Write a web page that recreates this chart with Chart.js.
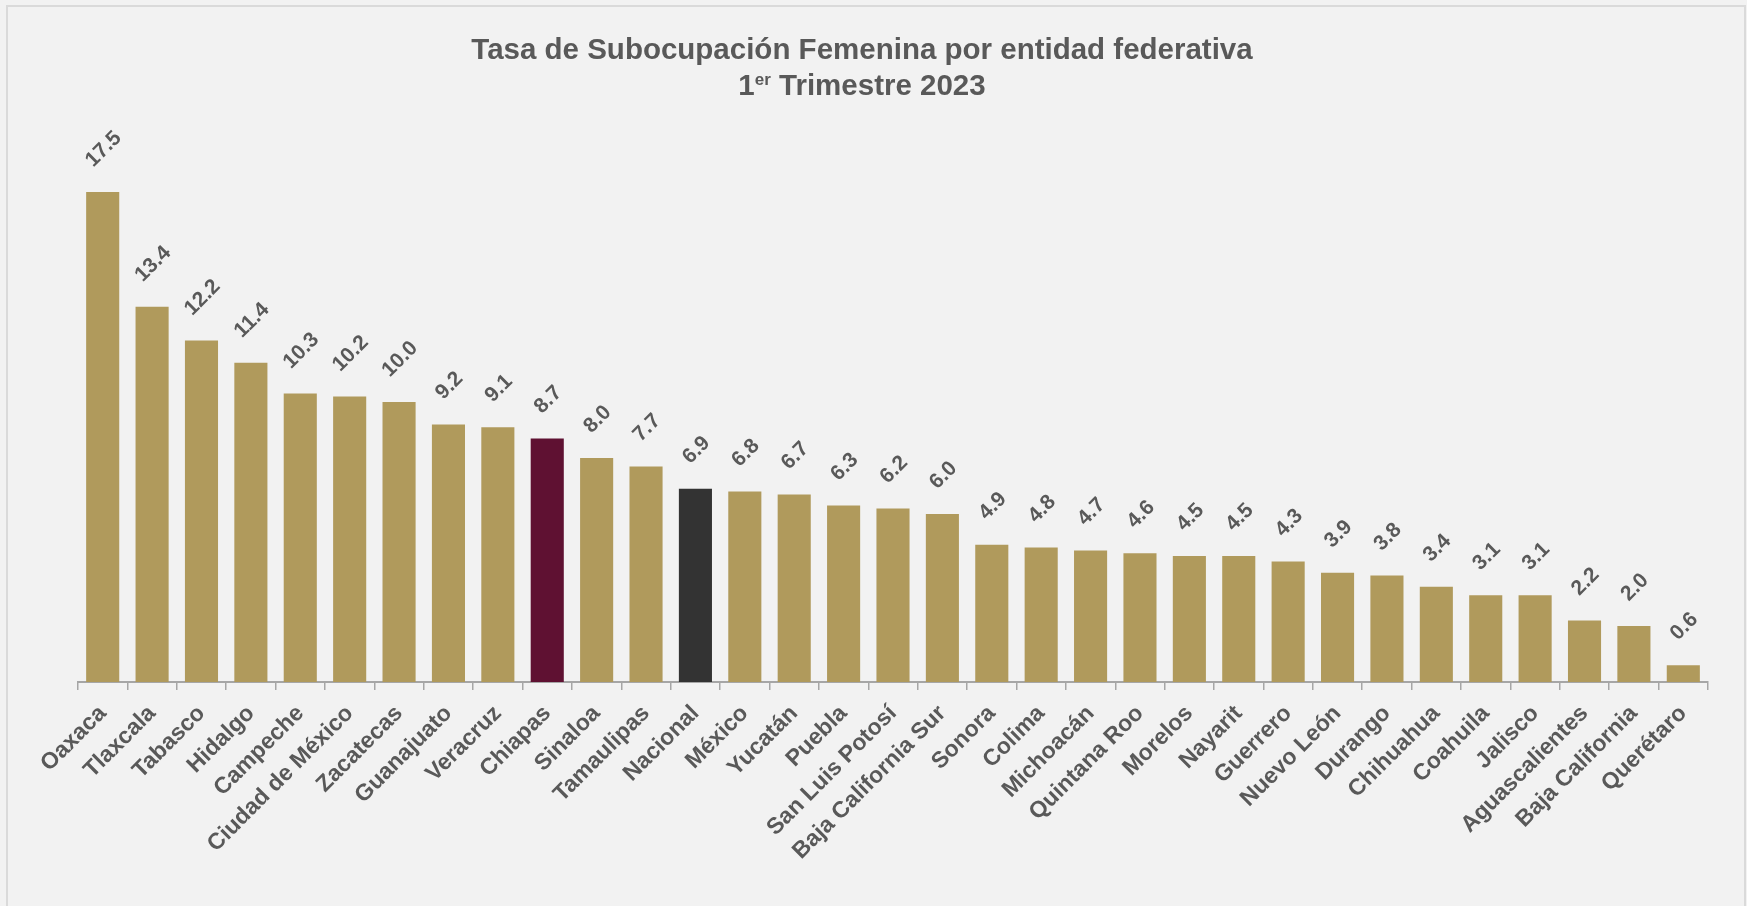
<!DOCTYPE html>
<html><head><meta charset="utf-8">
<script src="https://cdn.jsdelivr.net/npm/chart.js@4/dist/chart.umd.min.js"></script>
<style>html,body{margin:0;padding:0;background:#f2f2f2;overflow:hidden}#wrap{width:1747px;height:906px}</style>
</head><body><div id="wrap"><canvas id="c" width="1747" height="906"></canvas></div>
<script>
const categories = ["Oaxaca","Tlaxcala","Tabasco","Hidalgo","Campeche","Ciudad de México","Zacatecas","Guanajuato","Veracruz","Chiapas","Sinaloa","Tamaulipas","Nacional","México","Yucatán","Puebla","San Luis Potosí","Baja California Sur","Sonora","Colima","Michoacán","Quintana Roo","Morelos","Nayarit","Guerrero","Nuevo León","Durango","Chihuahua","Coahuila","Jalisco","Aguascalientes","Baja California","Querétaro"];
const values = [17.5,13.4,12.2,11.4,10.3,10.2,10.0,9.2,9.1,8.7,8.0,7.7,6.9,6.8,6.7,6.3,6.2,6.0,4.9,4.8,4.7,4.6,4.5,4.5,4.3,3.9,3.8,3.4,3.1,3.1,2.2,2.0,0.6];
const titleLine1 = "Tasa de Subocupación Femenina por entidad federativa";
const titleLine2 = ["1", "er", " Trimestre 2023"];
const baseColor = "#b09a5c";
const specialColors = {"Chiapas": "#5f1132", "Nacional": "#333333"};
const barColors = categories.map(c => specialColors[c] || baseColor);
const FONT = '"Liberation Sans", Arial, sans-serif';
const TXT = '#595959';

const framePlugin = {
  id: 'frame',
  beforeDraw(chart) {
    const ctx = chart.ctx;
    ctx.save();
    ctx.fillStyle = '#f2f2f2';
    ctx.fillRect(0, 0, chart.width, chart.height);
    ctx.strokeStyle = '#dadada';
    ctx.lineWidth = 2;
    ctx.beginPath();
    ctx.moveTo(7, 920); ctx.lineTo(7, 6); ctx.lineTo(1745, 6); ctx.lineTo(1745, 920);
    ctx.stroke();
    ctx.restore();
  },
  afterDraw(chart) {
    const ctx = chart.ctx;
    ctx.save();
    ctx.fillStyle = TXT;
    ctx.textBaseline = 'middle';
    ctx.textAlign = 'center';
    ctx.font = 'bold 29.5px ' + FONT;
    const cx = 862;
    ctx.fillText(titleLine1, cx, 51);
    const big = 'bold 29.5px ' + FONT, small = 'bold 17px ' + FONT;
    ctx.font = big; const w1 = ctx.measureText(titleLine2[0]).width;
    ctx.font = small; const w2 = ctx.measureText(titleLine2[1]).width;
    ctx.font = big; const w3 = ctx.measureText(titleLine2[2]).width;
    let x = cx - (w1 + w2 + w3) / 2;
    ctx.textAlign = 'left';
    ctx.font = big; ctx.fillText(titleLine2[0], x, 87); x += w1;
    ctx.font = small; ctx.fillText(titleLine2[1], x, 80); x += w2;
    ctx.font = big; ctx.fillText(titleLine2[2], x, 87);
    ctx.restore();
  },
  afterDatasetsDraw(chart) {
    const ctx = chart.ctx;
    const meta = chart.getDatasetMeta(0);
    ctx.save();
    ctx.fillStyle = TXT;
    ctx.font = 'bold 21px ' + FONT;
    ctx.textAlign = 'center';
    ctx.textBaseline = 'middle';
    meta.data.forEach((bar, i) => {
      const txt = values[i].toFixed(1);
      const w = ctx.measureText(txt).width;
      const h = 15;
      const d = (w + h) / (2 * Math.SQRT2);
      ctx.save();
      ctx.translate(bar.x + 1, bar.y - 23 - d);
      ctx.rotate(-Math.PI / 4);
      ctx.fillText(txt, 0, 0);
      ctx.restore();
    });
    ctx.restore();
  }
};

new Chart(document.getElementById('c'), {
  type: 'bar',
  data: {
    labels: categories,
    datasets: [{
      data: values,
      backgroundColor: barColors,
      borderWidth: 0,
      barPercentage: 0.67,
      categoryPercentage: 1.0
    }]
  },
  options: {
    responsive: false,
    animation: false,
    devicePixelRatio: 1,
    layout: { padding: { top: 122, left: 78, right: 39, bottom: 0 } },
    plugins: { legend: { display: false }, title: { display: false }, tooltip: { enabled: false } },
    scales: {
      x: {
        grid: { display: true, drawOnChartArea: false, drawTicks: true, tickLength: 8, color: '#a6a6a6', lineWidth: 1.5, offset: true },
        border: { display: true, color: '#a6a6a6', width: 2 },
        ticks: {
          autoSkip: false, maxRotation: 45, minRotation: 45, padding: 10,
          color: TXT, font: { family: FONT, size: 23, weight: 'bold' }
        },
        afterFit(s) { s.height = 224; }
      },
      y: { display: false, min: 0, max: 20 }
    }
  },
  plugins: [framePlugin]
});
</script></body></html>
